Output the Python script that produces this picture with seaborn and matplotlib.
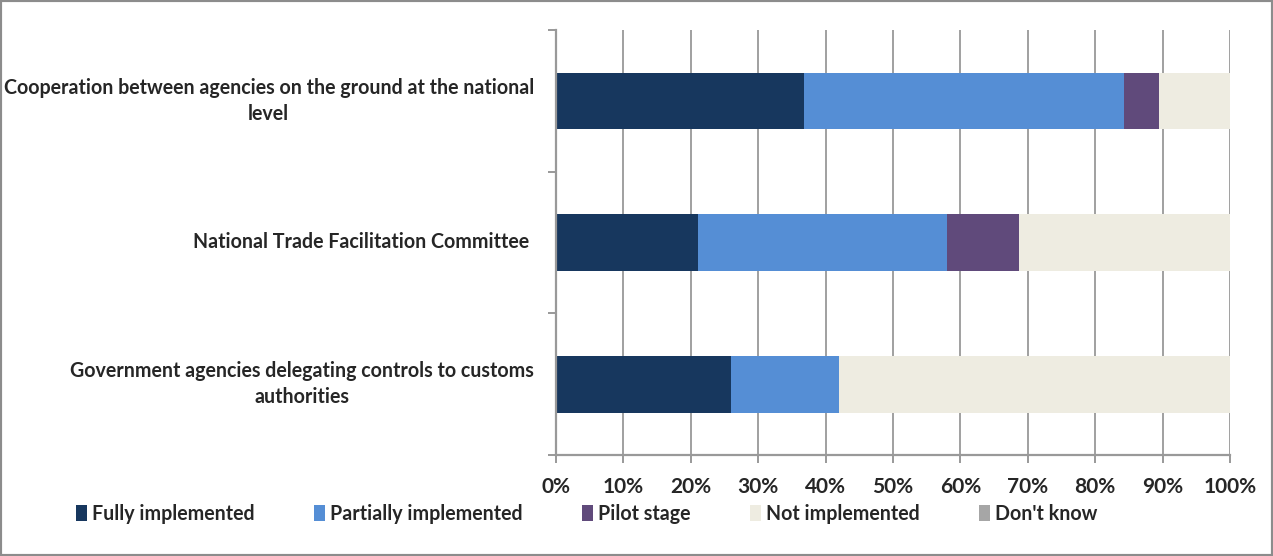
import matplotlib
matplotlib.use("Agg")
import matplotlib.pyplot as plt
import seaborn as sns
import numpy as np
from matplotlib.patches import Patch, Rectangle
from matplotlib.ticker import PercentFormatter, FixedLocator

categories = [
    "Cooperation between agencies on the ground at the national\nlevel",
    "National Trade Facilitation Committee ",
    "Government agencies delegating controls to customs\nauthorities",
]
series = ["Fully implemented", "Partially implemented", "Pilot stage",
          "Not implemented", "Don't know"]
fully = [36.8, 21.1, 26.0]
partially = [47.4, 36.9, 16.0]
pilot = [5.3, 10.7, 0.0]
not_impl = [10.5, 31.3, 58.0]
dont_know = [0.0, 0.0, 0.0]
colors = ["#17375e", "#558ed5", "#604a7b", "#eeece1", "#a6a6a6"]
xticks = list(range(0, 101, 10))

sns.set_theme(style="white")
plt.rcParams["font.family"] = ["Lato", "DejaVu Sans"]

fig = plt.figure(figsize=(12.73, 5.56), dpi=100)
ax = fig.add_axes([556 / 1273, 1 - 455 / 556, (1230 - 556) / 1273, (455 - 30) / 556])

values = np.array([fully, partially, pilot, not_impl, dont_know])
cum = np.cumsum(values, axis=0)
for i in reversed(range(len(series))):
    sns.barplot(x=cum[i], y=categories, color=colors[i], orient="h", width=0.4,
                ax=ax, saturation=1, linewidth=0, edgecolor="none")

ax.set_xlim(0, 100)
ax.set_ylim(2.5, -0.5)
ax.set_xticks(xticks)
ax.xaxis.set_major_formatter(PercentFormatter(decimals=0))
ax.yaxis.set_minor_locator(FixedLocator([-0.5, 0.5, 1.5, 2.5]))
ax.grid(axis="x", color="#a0a0a0", linewidth=1.4)
ax.set_axisbelow(True)
ax.set_xlabel("")
ax.set_ylabel("")

for s in ["top", "right"]:
    ax.spines[s].set_visible(False)
for s in ["left", "bottom"]:
    ax.spines[s].set_color("#999999")
    ax.spines[s].set_linewidth(1.6)

ax.tick_params(axis="x", which="major", direction="out", length=6, width=1.4,
               color="#999999", labelsize=15, pad=10, bottom=True)
ax.tick_params(axis="y", which="major", length=0, pad=16, labelsize=14.1)
ax.tick_params(axis="y", which="minor", direction="out", length=6, width=1.4,
               color="#999999", left=True)
for lbl in ax.get_xticklabels():
    lbl.set_fontweight("bold")
for lbl in ax.get_yticklabels():
    lbl.set_multialignment("center")
    lbl.set_fontweight("bold")
    lbl.set_linespacing(1.4)
    lbl.set_verticalalignment("center")

handles = [Patch(facecolor=c, edgecolor="none") for c in colors]
fig.legend(handles, series, loc="center left",
           bbox_to_anchor=(58 / 1273, 1 - 514 / 556), ncol=5, frameon=False,
           handlelength=0.6, handleheight=0.9, handletextpad=0.25,
           columnspacing=3.0, prop={"size": 14.1, "weight": "bold"})

fig.patches.append(Rectangle((0, 0), 1, 1, transform=fig.transFigure, fill=False,
                             edgecolor="#8c8c8c", linewidth=3))

fig.savefig("out.png", dpi=100)
